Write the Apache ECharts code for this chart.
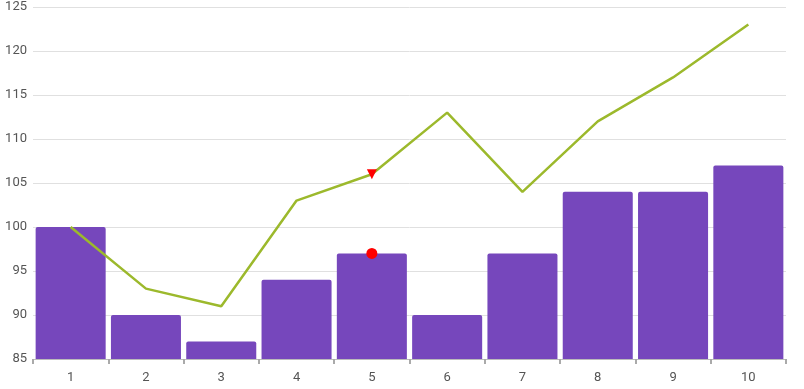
<!DOCTYPE html>
<html><head><meta charset="utf-8">
<script src="https://cdn.jsdelivr.net/npm/echarts@6/dist/echarts.min.js"></script>
<style>html,body{margin:0;padding:0;background:#fff}#c{width:804px;height:389px}</style>
</head><body><div id="c"></div>
<script>
var categories = ['1','2','3','4','5','6','7','8','9','10'];
var barValues = [100, 90, 87, 94, 97, 90, 97, 104, 104, 107];
var lineValues = [100, 93, 91, 103, 106, 113, 104, 112, 117, 123];
var yTicks = [85, 90, 95, 100, 105, 110, 115, 120, 125];

var chart = echarts.init(document.getElementById('c'));
chart.setOption({
  animation: false,
  grid: {left: 33, right: 18, top: 7, bottom: 30},
  xAxis: {
    type: 'category', data: categories,
    axisLine: {lineStyle: {color: '#bbb'}},
    axisTick: {show: true, length: 5, lineStyle: {color: '#aaa', width: 2}},
    axisLabel: {color: '#555', fontSize: 13, fontFamily: 'Roboto', margin: 12}
  },
  yAxis: {
    type: 'value', min: yTicks[0], max: yTicks[yTicks.length-1], interval: 5,
    axisLine: {show: false}, axisTick: {show: false},
    axisLabel: {color: '#555', fontSize: 13, fontFamily: 'Roboto', margin: 6},
    splitLine: {lineStyle: {color: '#e0e0e0'}}
  },
  series: [{
    type: 'bar', data: barValues, barCategoryGap: '7%',
    itemStyle: {color: '#7647bc', borderRadius: [2,2,0,0]},
    markPoint: {
      symbol: 'circle', symbolSize: 11, label: {show: false},
      itemStyle: {color: '#ff0000'},
      data: [{coord: [categories[4], barValues[4]]}]
    }
  }, {
    type: 'line', data: lineValues, symbol: 'none',
    lineStyle: {color: '#9cb92c', width: 2.5},
    markPoint: {
      symbol: 'triangle', symbolSize: 10, symbolRotate: 180, label: {show: false},
      itemStyle: {color: '#ff0000'},
      data: [{coord: [categories[4], lineValues[4]]}]
    }
  }]
});
</script></body></html>
